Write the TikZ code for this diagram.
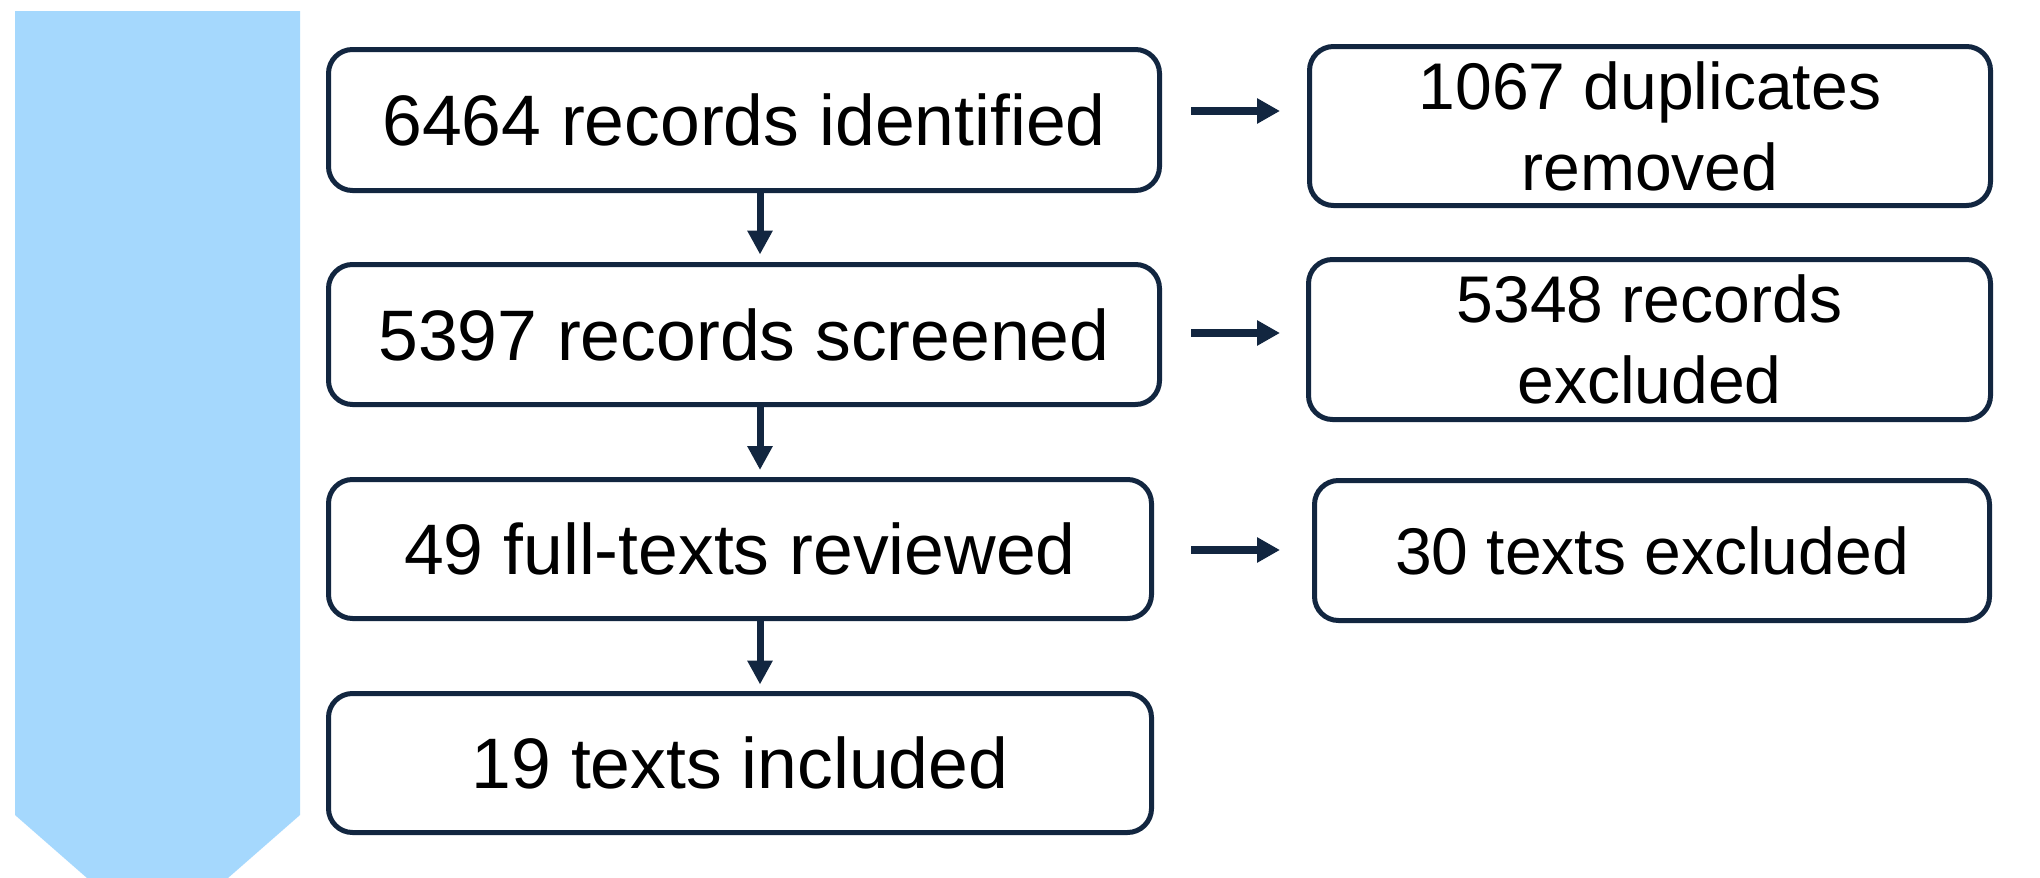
\documentclass[tikz,border=0pt]{standalone}
\usepackage{fontspec}
\setmainfont{Liberation Sans}
\usetikzlibrary{arrows.meta}
\definecolor{navy}{RGB}{18,38,64}
\definecolor{banner}{RGB}{165,216,253}
\tikzset{
  flowbox/.style={draw=navy, line width=2.5pt, rounded corners=12pt, fill=white,
    inner sep=0pt, align=center, text=black},
  leftbox/.style={flowbox, font=\fontsize{35.75pt}{41pt}\selectfont},
  rightbox/.style={flowbox, font=\fontsize{33pt}{40.5pt}\selectfont},
  varrow/.style={draw=navy, line width=3.5pt, -{Triangle[length=12pt,width=12pt]}, navy},
  harrow/.style={draw=navy, line width=4pt, -{Triangle[length=11.5pt,width=12pt]}, navy},
}
\begin{document}
\begin{tikzpicture}[x=0.5pt,y=-0.5pt]
\clip (0,0) rectangle (2040,878);
\fill[white] (0,0) rectangle (2040,878);
% banner
\fill[banner] (15,11) -- (300,11) -- (300,815) -- (157.5,939.7) -- (15,815) -- cycle;
% left column
\node[leftbox, minimum width=415.5pt, minimum height=70.5pt] (b1) at (744,120) {6464 records identified};
\node[leftbox, minimum width=415.5pt, minimum height=70pt] (b2) at (744,334.5) {5397 records screened};
\node[leftbox, minimum width=411.5pt, minimum height=69.5pt] (b3) at (740,549) {49 full-texts reviewed};
\node[leftbox, minimum width=411.5pt, minimum height=69.5pt] (b4) at (740,763) {19 texts included};
% right column
\node[rightbox, minimum width=340.5pt, minimum height=79.5pt] (r1) at (1650,126) {1067 duplicates\\removed};
\node[rightbox, minimum width=341pt, minimum height=80pt] (r2) at (1649.5,339.5) {5348 records\\excluded};
\node[rightbox, minimum width=337.5pt, minimum height=70pt] (r3) at (1652,550.5) {30 texts excluded};
% guide coordinates
\coordinate (vx) at (760,0);
\coordinate (hs) at (1191,0);
\coordinate (he) at (1280,0);
% vertical arrows
\draw[varrow, shorten >=3.75pt] (b1.south -| vx) -- (b2.north -| vx);
\draw[varrow, shorten >=3.5pt] (b2.south -| vx) -- (b3.north -| vx);
\draw[varrow, shorten >=3.25pt] (b3.south -| vx) -- (b4.north -| vx);
% horizontal arrows
\draw[harrow] ([yshift=4.5pt]b1.east -| hs) -- ([yshift=4.5pt]b1.east -| he);
\draw[harrow] ([yshift=0.75pt]b2.east -| hs) -- ([yshift=0.75pt]b2.east -| he);
\draw[harrow] ([yshift=-0.5pt]b3.east -| hs) -- ([yshift=-0.5pt]b3.east -| he);
\end{tikzpicture}
\end{document}
